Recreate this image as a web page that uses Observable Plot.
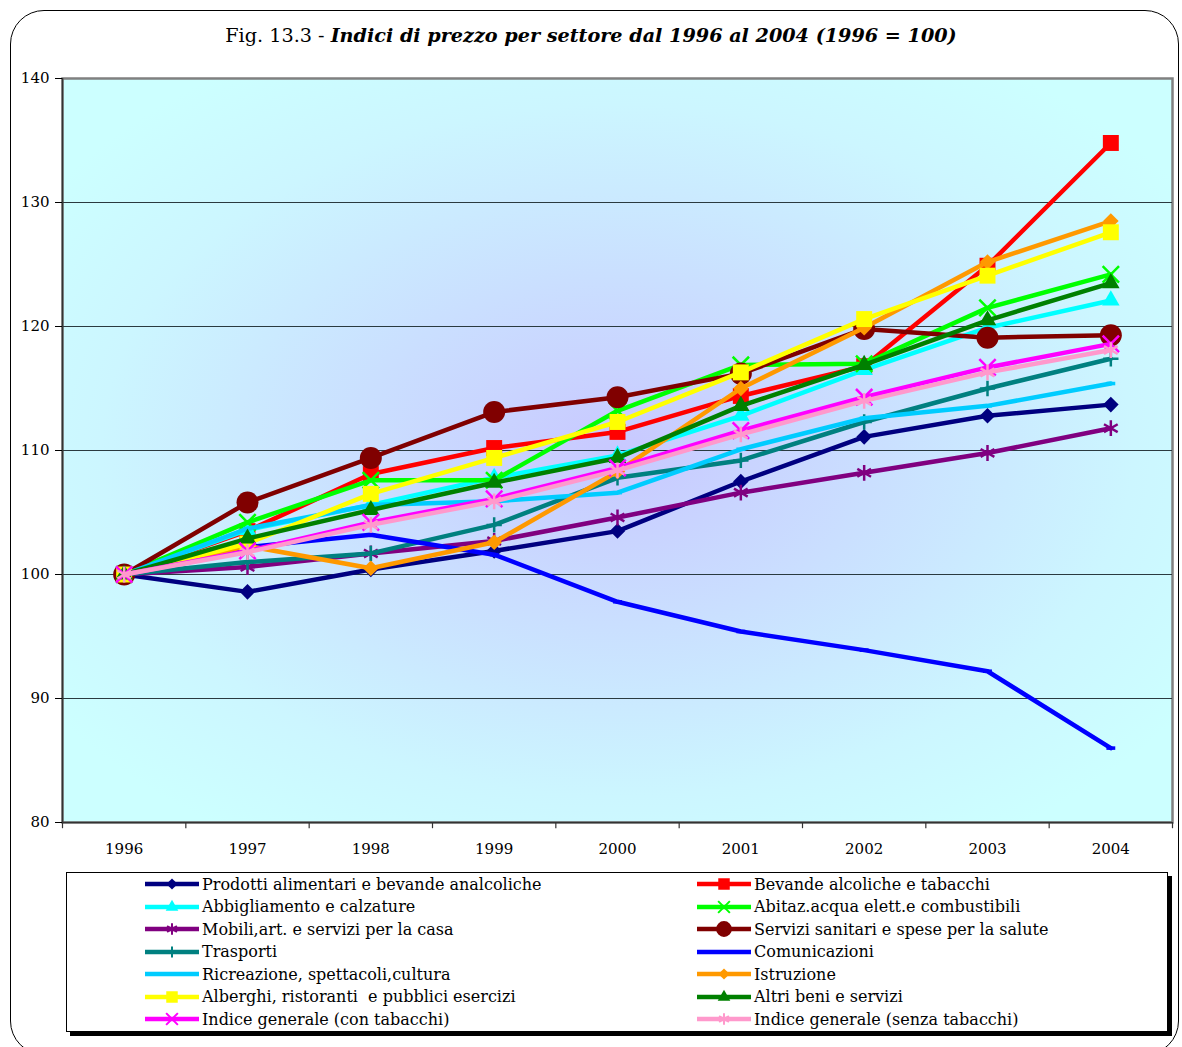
<!DOCTYPE html>
<html><head><meta charset="utf-8">
<script src="https://cdn.jsdelivr.net/npm/d3@7"></script>
<script src="https://cdn.jsdelivr.net/npm/@observablehq/plot@0.6"></script>
<style>
body{margin:0;background:#fff;font-family:"DejaVu Serif",serif;}
#wrap{position:relative;width:1182px;height:1047px;overflow:hidden;background:#fff;}
#border{position:absolute;left:10px;top:10px;width:1169px;height:1045px;border:1.5px solid #000;border-radius:34px;box-sizing:border-box;}
#title{position:absolute;top:24px;left:0;width:1182px;text-align:center;font-size:19.2px;line-height:24px;color:#000;}
#title b{font-style:italic;}
#chart{position:absolute;left:0;top:50px;}
#legend{position:absolute;left:66px;top:872px;width:1102px;height:160px;border:1px solid #000;box-shadow:4px 4px 0 #000;background:#fff;box-sizing:border-box;}
.li{position:absolute;height:22px;display:flex;align-items:center;font-size:16px;white-space:pre;}
.li svg{margin-right:2px;}
</style></head>
<body>
<div id="wrap">
  <div id="border"></div>
  <div id="title">Fig. 13.3 - <b>Indici di prezzo per settore dal 1996 al 2004 (1996 = 100)</b></div>
  <div id="chart"></div>
  <div id="legend"></div>
</div>
<script>
const years = [1996, 1997, 1998, 1999, 2000, 2001, 2002, 2003, 2004];
const yTicks = [80, 90, 100, 110, 120, 130, 140];

const prodotti      = [100, 98.6, 100.4, 101.9, 103.5, 107.5, 111.1, 112.8, 113.7];
const bevande       = [100, 103.5, 108.1, 110.2, 111.5, 114.4, 116.8, 124.9, 134.8];
const abbigliamento = [100, 103.6, 105.6, 107.8, 109.6, 112.8, 116.5, 119.9, 122.1];
const abitazione    = [100, 104.2, 107.6, 107.6, 113.2, 116.9, 117.0, 121.5, 124.2];
const mobili        = [100, 100.6, 101.7, 102.7, 104.6, 106.6, 108.2, 109.8, 111.8];
const sanitari      = [100, 105.8, 109.4, 113.1, 114.3, 116.2, 119.8, 119.1, 119.3];
const trasporti     = [100, 101.0, 101.7, 104.0, 107.8, 109.2, 112.3, 115.0, 117.4];
const comunicazioni = [100, 102.2, 103.2, 101.6, 97.8, 95.4, 93.9, 92.2, 86.0];
const ricreazione   = [100, 103.7, 105.6, 105.9, 106.6, 110.1, 112.6, 113.6, 115.4];
const istruzione    = [100, 102.3, 100.5, 102.6, 108.3, 115.0, 119.9, 125.2, 128.5];
const alberghi      = [100, 102.5, 106.5, 109.4, 112.3, 116.3, 120.6, 124.1, 127.6];
const altri         = [100, 102.9, 105.2, 107.4, 109.4, 113.6, 116.9, 120.5, 123.5];
const indiceCon     = [100, 101.9, 104.2, 106.1, 108.6, 111.6, 114.3, 116.7, 118.6];
const indiceSenza   = [100, 101.8, 104.0, 105.9, 108.4, 111.3, 114.0, 116.3, 118.1];

const dash = {draw(ctx, size){const w = Math.sqrt(size); ctx.rect(-w/2, -w/5, w, w*0.4);}};

const series = [
  {name:"Prodotti alimentari e bevande analcoliche", values:prodotti, color:"#000080", symbol:"diamond2", filled:true, r:7},
  {name:"Bevande alcoliche e tabacchi", values:bevande, color:"#FF0000", symbol:"square", filled:true, r:9},
  {name:"Abbigliamento e calzature", values:abbigliamento, color:"#00FFFF", symbol:"triangle", filled:true, r:6.5},
  {name:"Abitaz.acqua elett.e combustibili", values:abitazione, color:"#00FF00", symbol:"times", filled:false, r:7.5},
  {name:"Mobili,art. e servizi per la casa", values:mobili, color:"#800080", symbol:"asterisk", filled:false, r:7.5},
  {name:"Servizi sanitari e spese per la salute", values:sanitari, color:"#800000", symbol:"circle", filled:true, r:11},
  {name:"Trasporti", values:trasporti, color:"#008080", symbol:"plus", filled:false, r:5},
  {name:"Comunicazioni", values:comunicazioni, color:"#0000FF", symbol:dash, filled:true, r:5},
  {name:"Ricreazione, spettacoli,cultura", values:ricreazione, color:"#00CCFF", symbol:dash, filled:true, r:5},
  {name:"Istruzione", values:istruzione, color:"#FF9900", symbol:"diamond2", filled:true, r:7},
  {name:"Alberghi, ristoranti  e pubblici esercizi", values:alberghi, color:"#FFFF00", symbol:"square", filled:true, r:9},
  {name:"Altri beni e servizi", values:altri, color:"#008000", symbol:"triangle", filled:true, r:6.5},
  {name:"Indice generale (con tabacchi)", values:indiceCon, color:"#FF00FF", symbol:"times", filled:false, r:7.5},
  {name:"Indice generale (senza tabacchi)", values:indiceSenza, color:"#FF99CC", symbol:"asterisk", filled:false, r:7.5}
];

const seriesMarks = series.flatMap(s => {
  const data = years.map((y, i) => ({year: y, value: s.values[i]}));
  const dotOpts = {x:"year", y:"value", symbol: s.symbol, r: s.r};
  if (s.filled) { dotOpts.fill = s.color; dotOpts.stroke = "none"; }
  else { dotOpts.stroke = s.color; dotOpts.strokeWidth = 2.5; dotOpts.fill = "none"; }
  return [
    Plot.line(data, {x:"year", y:"value", stroke: s.color, strokeWidth: 4.5, strokeLinejoin:"round"}),
    Plot.dot(data, dotOpts)
  ];
});

const boundaries = d3.range(1995.5, 2005, 1);

const plot = Plot.plot({
  width: 1182, height: 820,
  marginTop: 28, marginLeft: 62, marginRight: 10, marginBottom: 48,
  x: {domain: [1995.5, 2004.5]},
  y: {domain: [80, 140]},
  style: {fontFamily: "DejaVu Serif, serif", fontSize: "15px", color: "#000", background: "transparent", overflow: "visible"},
  marks: [
    Plot.frame({fill: "url(#bgGrad)", stroke: "#808080", strokeWidth: 2.5}),
    Plot.ruleY([90, 100, 110, 120, 130], {stroke: "#2a3a40", strokeWidth: 1.2}),
    Plot.ruleY([80], {stroke: "#333", strokeWidth: 1.5}),
    Plot.ruleX([1995.5], {stroke: "#333", strokeWidth: 1.5}),
    Plot.ruleX(boundaries, {x: d => d, y1: 80, y2: 79.5, stroke: "#333", strokeWidth: 1.2, clip: false}),
    Plot.axisX(years, {tickSize: 0, tickPadding: 21, tickFormat: d => String(d), label: null, fontSize: 15}),
    Plot.axisY(yTicks, {tickSize: 7, tickPadding: 6, label: null, fontSize: 15}),
    ...seriesMarks
  ]
});

const svg = d3.select(plot);
const grad = svg.insert("defs", ":first-child").append("radialGradient")
  .attr("id", "bgGrad").attr("cx", "0.5").attr("cy", "0.5").attr("r", "0.62");
grad.append("stop").attr("offset", "0").attr("stop-color", "#C8C8FF");
grad.append("stop").attr("offset", "0.75").attr("stop-color", "#CCF6FF");
grad.append("stop").attr("offset", "1").attr("stop-color", "#CCFFFF");

document.getElementById("chart").appendChild(plot);

// Legend
const legend = d3.select("#legend");
const rowY = [11, 33.5, 56, 78.5, 101, 123.5, 146];
series.forEach((s, i) => {
  const col = i % 2, row = Math.floor(i / 2);
  const left = col === 0 ? 77 : 629;
  const item = legend.append("div").attr("class", "li")
    .style("left", left + "px").style("top", (rowY[row] - 11) + "px");
  const sw = item.append("svg").attr("width", 56).attr("height", 16);
  sw.append("line").attr("x1", 1).attr("x2", 55).attr("y1", 8).attr("y2", 8)
    .attr("stroke", s.color).attr("stroke-width", 4.5);
  if (s.symbol !== dash) {
    const symType = {
      diamond2: d3.symbolDiamond2, square: d3.symbolSquare, triangle: d3.symbolTriangle,
      times: d3.symbolTimes, asterisk: d3.symbolAsterisk, circle: d3.symbolCircle, plus: d3.symbolPlus
    }[s.symbol];
    const size = Math.PI * Math.pow(s.r * 0.72, 2);
    const p = sw.append("path").attr("d", d3.symbol(symType, size)()).attr("transform", "translate(28,8)");
    if (s.filled) p.attr("fill", s.color); else p.attr("fill", "none").attr("stroke", s.color).attr("stroke-width", 2);
  }
  item.append("span").text(s.name);
});
</script>
</body></html>
